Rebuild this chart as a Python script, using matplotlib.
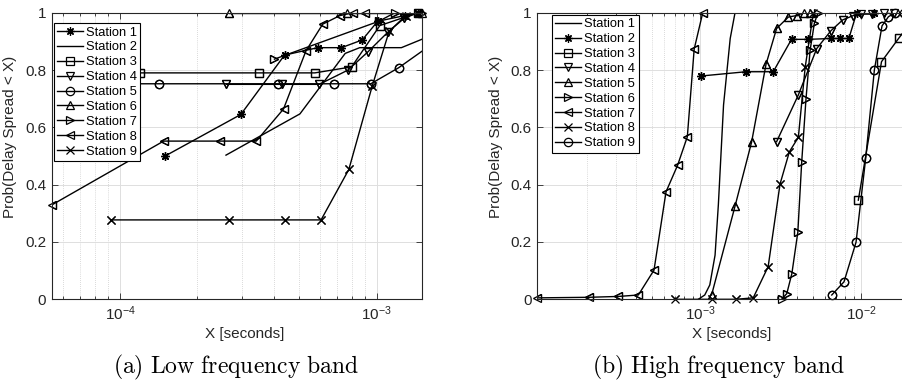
import numpy as np
import matplotlib
matplotlib.use('Agg')
import matplotlib.pyplot as plt
from matplotlib.ticker import LogLocator, NullFormatter, FixedLocator

plt.rcParams['font.family'] = ['Liberation Sans', 'DejaVu Sans']
plt.rcParams['mathtext.fontset'] = 'cm'

# ---- (a) low frequency band: delay spread CDF per station ----
lf_s1_x = [1.5e-4, 2.96e-4, 4.38e-4, 5.9e-4, 7.3e-4, 8.8e-4, 1.01e-3, 1.29e-3, 1.45e-3]
lf_s1_y = [0.50, 0.645, 0.852, 0.878, 0.878, 0.905, 0.97, 0.99, 1.0]
lf_s2_x = [2.59e-4, 5.03e-4, 7.55e-4, 8.6e-4, 1.25e-3, 1.5e-3, 1.8e-3]
lf_s2_y = [0.503, 0.647, 0.858, 0.878, 0.878, 0.907, 0.95]
lf_s3_x = [7.0e-5, 1.2e-4, 3.47e-4, 5.75e-4, 8.0e-4, 1.03e-3, 1.45e-3]
lf_s3_y = [0.79, 0.79, 0.79, 0.79, 0.811, 0.955, 1.0]
lf_s4_x = [2.6e-4, 4.27e-4, 5.98e-4, 7.75e-4, 9.27e-4, 1.11e-3, 1.28e-3, 1.45e-3]
lf_s4_y = [0.75, 0.75, 0.75, 0.80, 0.864, 0.933, 0.98, 1.0]
lf_s5_x = [7.5e-5, 1.42e-4, 4.13e-4, 6.85e-4, 9.5e-4, 1.22e-3, 1.9e-3]
lf_s5_y = [0.752, 0.752, 0.752, 0.752, 0.752, 0.808, 0.93]
lf_s6_x = [2.66e-4, 7.7e-4, 1.5e-3]
lf_s6_y = [1.0, 1.0, 1.0]
lf_s7_x = [4.0e-4, 1.02e-3, 1.18e-3, 1.5e-3]
lf_s7_y = [0.838, 0.97, 1.0, 1.0]
lf_s8_x = [5.42e-5, 1.48e-4, 2.45e-4, 3.4e-4, 4.34e-4, 5.31e-4, 6.17e-4, 7.2e-4, 8.1e-4, 9.0e-4]
lf_s8_y = [0.329, 0.552, 0.552, 0.552, 0.664, 0.867, 0.96, 0.99, 1.0, 1.0]
lf_s9_x = [9.2e-5, 2.65e-4, 4.38e-4, 6.08e-4, 7.8e-4, 9.62e-4, 1.12e-3, 1.3e-3, 1.45e-3]
lf_s9_y = [0.277, 0.277, 0.277, 0.277, 0.453, 0.744, 0.935, 0.99, 1.0]

# ---- (b) high frequency band ----
hf_s1_x = [9.76e-4, 1.07e-3, 1.15e-3, 1.24e-3, 1.30e-3, 1.40e-3, 1.54e-3, 1.65e-3]
hf_s1_y = [0.0, 0.015, 0.05, 0.154, 0.33, 0.678, 0.91, 1.0]
hf_s2_x = [1.01e-3, 1.93e-3, 2.85e-3, 3.7e-3, 4.7e-3, 6.5e-3, 7.4e-3, 8.4e-3, 9.4e-3, 1.2e-2]
hf_s2_y = [0.779, 0.794, 0.794, 0.907, 0.907, 0.91, 0.91, 0.91, 1.0, 1.0]
hf_s3_x = [9.62e-3, 1.34e-2, 1.71e-2, 2.2e-2]
hf_s3_y = [0.346, 0.829, 0.91, 0.99]
hf_s4_x = [2.99e-3, 4.08e-3, 5.31e-3, 6.5e-3, 7.7e-3, 8.95e-3, 1.0e-2, 1.17e-2, 1.38e-2, 1.6e-2]
hf_s4_y = [0.55, 0.713, 0.875, 0.937, 0.975, 0.99, 0.995, 0.995, 1.0, 1.0]
hf_s5_x = [1.18e-3, 1.65e-3, 2.09e-3, 2.57e-3, 2.99e-3, 3.54e-3, 3.98e-3, 4.4e-3, 4.83e-3]
hf_s5_y = [0.015, 0.325, 0.548, 0.82, 0.945, 0.985, 0.99, 1.0, 1.0]
hf_s6_x = [3.21e-3, 3.46e-3, 3.72e-3, 4.05e-3, 4.28e-3, 4.55e-3, 4.83e-3, 5.13e-3, 5.4e-3]
hf_s6_y = [0.0, 0.02, 0.09, 0.234, 0.478, 0.698, 0.87, 0.963, 1.0]
hf_s7_x = [9.76e-5, 2.05e-4, 3.11e-4, 4.14e-4, 5.18e-4, 6.15e-4, 7.26e-4, 8.34e-4, 9.2e-4, 1.04e-3]
hf_s7_y = [0.005, 0.007, 0.01, 0.015, 0.102, 0.375, 0.468, 0.567, 0.873, 1.0]
hf_s8_x = [7.0e-4, 1.18e-3, 1.67e-3, 2.14e-3, 2.65e-3, 3.14e-3, 3.59e-3, 4.08e-3, 4.5e-3, 5.06e-3]
hf_s8_y = [0.0, 0.0, 0.0, 0.005, 0.114, 0.402, 0.515, 0.565, 0.81, 1.0]
hf_s9_x = [6.58e-3, 7.84e-3, 9.31e-3, 1.07e-2, 1.21e-2, 1.35e-2, 1.48e-2, 1.63e-2, 1.85e-2]
hf_s9_y = [0.015, 0.061, 0.199, 0.494, 0.80, 0.954, 0.986, 1.0, 1.0]

station_names = ['Station %d' % i for i in range(1, 10)]
yticks = [0, 0.2, 0.4, 0.6, 0.8, 1.0]
ytick_labels = ['0', '0.2', '0.4', '0.6', '0.8', '1']

ast = (8, 2, 0)
lf_markers = [ast, None, 's', 'v', 'o', '^', '>', '<', 'x']
hf_markers = [None, ast, 's', 'v', '^', '>', '<', 'x', 'o']

lf_data = [(lf_s1_x, lf_s1_y), (lf_s2_x, lf_s2_y), (lf_s3_x, lf_s3_y),
           (lf_s4_x, lf_s4_y), (lf_s5_x, lf_s5_y), (lf_s6_x, lf_s6_y),
           (lf_s7_x, lf_s7_y), (lf_s8_x, lf_s8_y), (lf_s9_x, lf_s9_y)]
hf_data = [(hf_s1_x, hf_s1_y), (hf_s2_x, hf_s2_y), (hf_s3_x, hf_s3_y),
           (hf_s4_x, hf_s4_y), (hf_s5_x, hf_s5_y), (hf_s6_x, hf_s6_y),
           (hf_s7_x, hf_s7_y), (hf_s8_x, hf_s8_y), (hf_s9_x, hf_s9_y)]

W, H = 902, 382
fig = plt.figure(figsize=(W / 100, H / 100), dpi=100)

TXT = '#262626'


def px_axes(x0, x1, y0, y1):
    return fig.add_axes([x0 / W, 1 - y1 / H, (x1 - x0) / W, (y1 - y0) / H])


def setup(ax, xlim, majors):
    ax.set_xscale('log')
    ax.set_xlim(*xlim)
    ax.set_ylim(0, 1)
    ax.xaxis.set_major_locator(FixedLocator(majors))
    ax.xaxis.set_minor_locator(LogLocator(base=10, subs=np.arange(2, 10), numticks=20))
    ax.xaxis.set_minor_formatter(NullFormatter())
    ax.yaxis.set_major_locator(FixedLocator(yticks))
    ax.set_yticklabels(ytick_labels)
    ax.set_axisbelow(True)
    ax.grid(True, which='major', color='#dedede', lw=0.7)
    ax.grid(True, which='minor', axis='x', color='#b8b8b8', lw=0.5, linestyle=(0, (1, 2)))
    ax.tick_params(which='both', direction='in', top=True, right=True,
                   colors=TXT, labelsize=11, width=0.6)
    ax.tick_params(which='major', length=4, pad=4)
    ax.tick_params(which='minor', length=2)
    for sp in ax.spines.values():
        sp.set_color(TXT)
        sp.set_linewidth(0.8)
    ax.set_xlabel('X [seconds]', fontsize=11, color=TXT)
    ax.set_ylabel('Prob(Delay Spread < X)', fontsize=11, color=TXT)


def draw(ax, data, markers, legend_anchor):
    lo, hi = ax.get_xlim()
    for (xs, ys), mk, name in zip(data, markers, station_names):
        ax.plot(xs, ys, color='black', lw=1.0, marker=mk, markersize=6,
                markerfacecolor='none', markeredgecolor='black',
                markeredgewidth=0.9, label=name)
        if mk is not None:
            # markers sitting on the axes border are drawn whole, as in the source
            inside = [(x, y) for x, y in zip(xs, ys) if lo <= x <= hi]
            ax.plot([p[0] for p in inside], [p[1] for p in inside], linestyle='none',
                    marker=mk, markersize=6, markerfacecolor='none',
                    markeredgecolor='black', markeredgewidth=0.9, clip_on=False)
    leg = ax.legend(loc='upper left', bbox_to_anchor=legend_anchor, borderaxespad=0,
                    fontsize=9.3, handlelength=2.0, handletextpad=0.25,
                    labelspacing=0.22, borderpad=0.25, fancybox=False,
                    framealpha=1, edgecolor='black')
    leg.get_frame().set_linewidth(0.8)
    leg.set_zorder(5)


# left axes: 51.7..421.7 px, right axes: 537.3..909.5 px (cropped by figure edge)
ax1 = px_axes(51.7, 421.7, 12.7, 299.3)
setup(ax1, (5.42e-5, 1.5e-3), [1e-4, 1e-3])
draw(ax1, lf_data, lf_markers, (0.006, 0.963))
ax1.xaxis.set_label_coords(0.522, -0.095)
ax1.yaxis.set_label_coords(-0.094, 0.566)

ax2 = px_axes(537.3, 909.5, 12.7, 299.3)
setup(ax2, (9.76e-5, 2.0e-2), [1e-3, 1e-2])
draw(ax2, hf_data, hf_markers, (0.040, 0.992))
ax2.xaxis.set_label_coords(0.522, -0.095)
ax2.yaxis.set_label_coords(-0.091, 0.566)

fig.text(235.8 / W, 9 / H, r'$\mathrm{(a)\ Low\ frequency\ band}$',
         ha='center', va='baseline', fontsize=17, color='black')
fig.text(718.3 / W, 9 / H, r'$\mathrm{(b)\ High\ frequency\ band}$',
         ha='center', va='baseline', fontsize=17, color='black')

fig.savefig('out.png', dpi=100)
